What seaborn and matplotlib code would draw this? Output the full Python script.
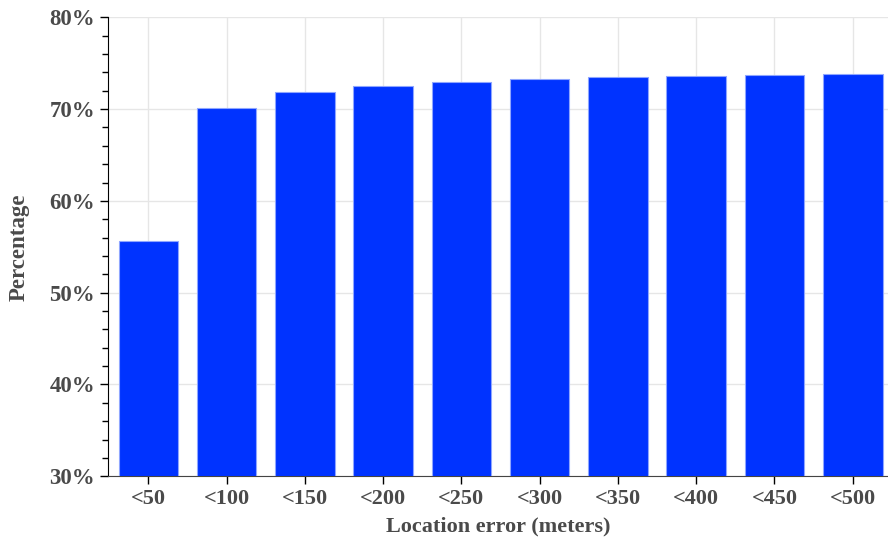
import matplotlib.pyplot as plt
import seaborn as sns
import pandas as pd
from matplotlib.ticker import MultipleLocator, FuncFormatter

categories = ["<50", "<100", "<150", "<200", "<250", "<300", "<350", "<400", "<450", "<500"]
percentages = [55.6, 70.1, 71.85, 72.5, 73.0, 73.25, 73.45, 73.6, 73.7, 73.8]

df = pd.DataFrame({"error": categories, "pct": percentages})

sns.set_style("white")
plt.rcParams["font.family"] = ["Liberation Serif", "DejaVu Serif"]
plt.rcParams["font.weight"] = "bold"

text_color = "#4a4a4a"

fig, ax = plt.subplots(figsize=(8.88, 5.4), dpi=100)
sns.barplot(
    data=df,
    x="error",
    y="pct",
    color="#0033ff",
    saturation=1,
    width=0.76,
    edgecolor="#8fa6ff",
    linewidth=0.8,
    ax=ax,
    zorder=3,
)

ax.set_ylim(30, 80)
ax.set_xlim(-0.51, 9.45)
ax.yaxis.set_major_locator(MultipleLocator(10))
ax.yaxis.set_minor_locator(MultipleLocator(2))
ax.yaxis.set_major_formatter(FuncFormatter(lambda v, p: f"{v:.0f}%"))

ax.grid(True, which="major", color="#e6e6e6", linewidth=1, zorder=0)
ax.set_axisbelow(True)

for side in ["top", "right"]:
    ax.spines[side].set_visible(False)
ax.spines["left"].set_color("black")
ax.spines["bottom"].set_color("#444444")

ax.tick_params(axis="y", which="major", length=6, width=1, color="black",
               labelsize=16.5, labelcolor=text_color, left=True)
ax.tick_params(axis="y", which="minor", length=4, width=1, color="black", left=True)
ax.tick_params(axis="x", length=6, width=1, color="black",
               labelsize=16, labelcolor=text_color, bottom=True)

ax.set_xlabel("Location error (meters)", fontsize=16, fontweight="bold",
              color=text_color, labelpad=5)
ax.set_ylabel("Percentage", fontsize=16.5, fontweight="bold",
              color=text_color, labelpad=14)

fig.subplots_adjust(left=0.122, right=1.0, top=0.968, bottom=0.118)
fig.savefig("out.png", dpi=100)
